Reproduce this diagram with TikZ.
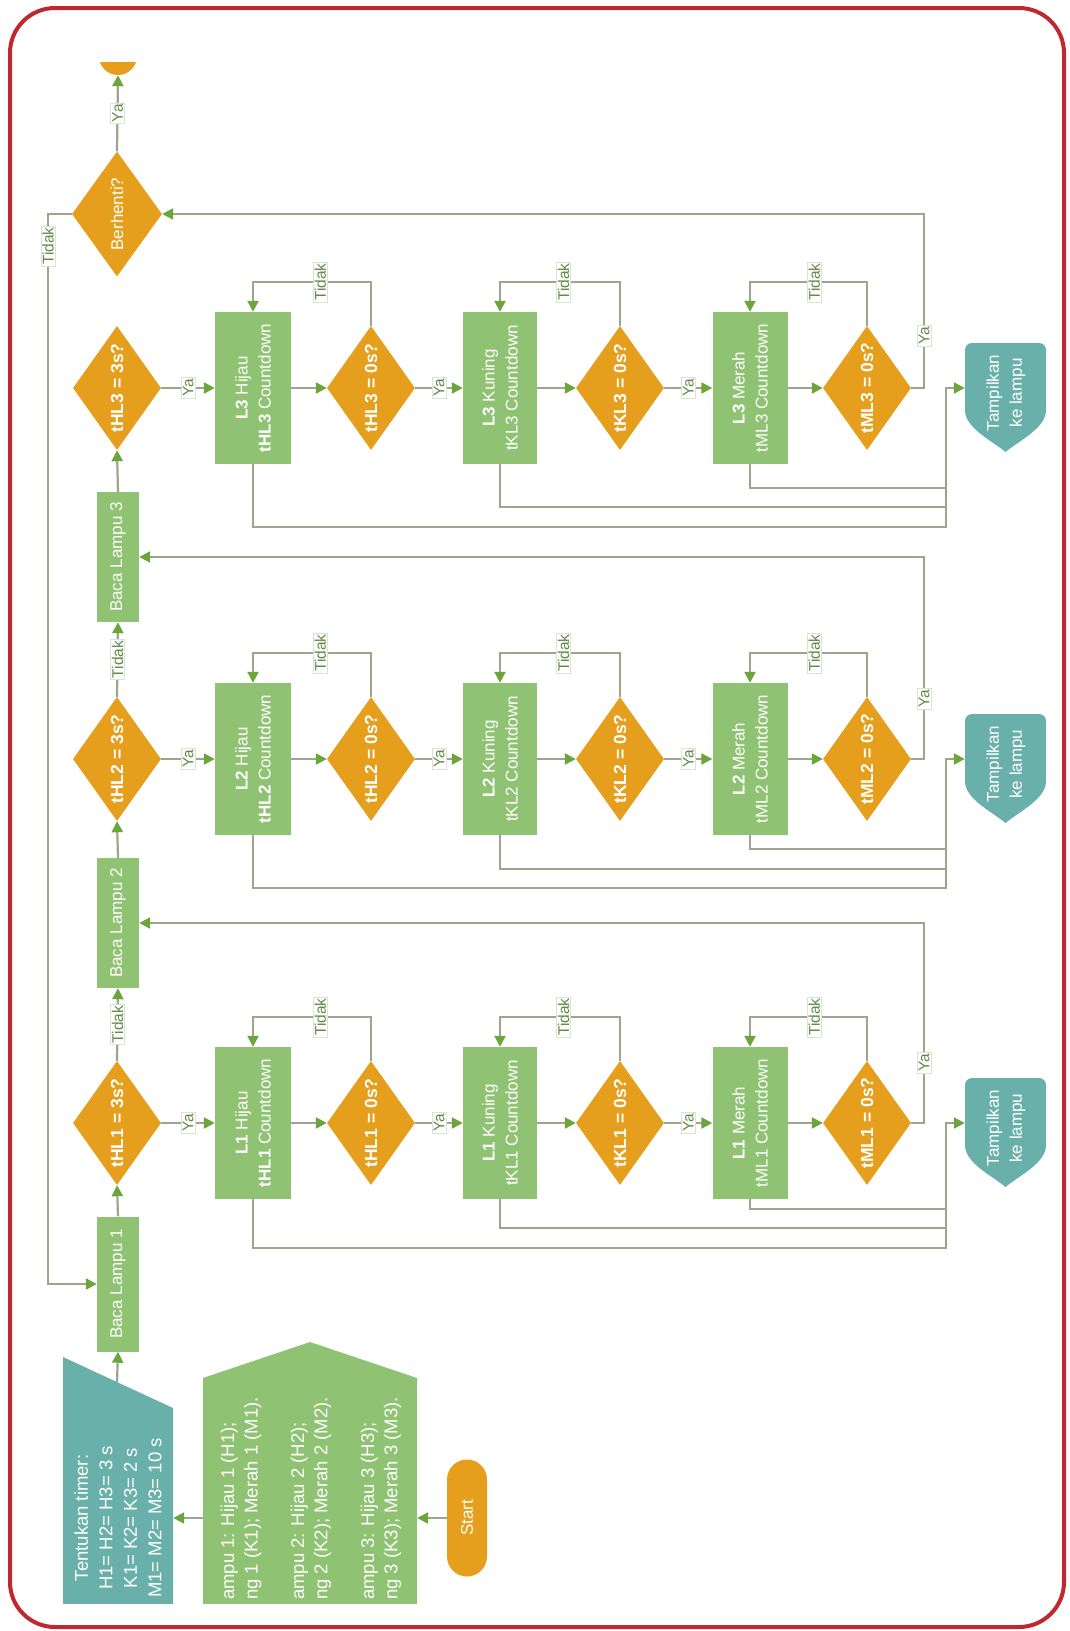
\documentclass[tikz,border=0pt]{standalone}
\usepackage{fontspec}
\setmainfont{Liberation Sans}
\usetikzlibrary{shapes.geometric,arrows.meta}
\definecolor{gGreen}{RGB}{143,195,115}
\definecolor{dOrange}{RGB}{229,159,28}
\definecolor{tTeal}{RGB}{106,176,170}
\definecolor{lineGray}{RGB}{158,165,140}
\definecolor{aGreen}{RGB}{108,165,60}
\definecolor{lblGreen}{RGB}{96,140,70}
\definecolor{frameRed}{RGB}{192,40,48}
\definecolor{lblBorder}{RGB}{222,226,212}
\begin{document}
\begin{tikzpicture}[x=1pt,y=-1pt,
  conn/.style={draw=lineGray, line width=2.2pt},
  arr/.style={conn, -{Triangle[length=11pt,width=11pt,color=aGreen]}},
  dia/.style={diamond, fill=dOrange, draw=none, minimum width=88pt, minimum height=124pt, inner sep=0pt},
  gbox/.style={rectangle, fill=gGreen, draw=none, minimum width=76pt, minimum height=152pt, inner sep=0pt},
  bbox/.style={rectangle, fill=gGreen, draw=none, minimum width=42pt, minimum height=130pt, inner sep=0pt},
  dtxt/.style={rotate=90, text=white, inner sep=0pt, font=\bfseries\fontsize{17.5}{20}\selectfont},
  btxt/.style={rotate=90, text=white, align=center, inner sep=0pt, font=\fontsize{17}{23}\selectfont},
  bigtxt/.style={rotate=90, text=white, align=center, inner sep=0pt, font=\fontsize{18.5}{24.5}\selectfont},
  lbl/.style={rotate=90, fill=white, draw=lblBorder, line width=0.6pt, text=lblGreen, inner sep=1.5pt, font=\fontsize{15.5}{17}\selectfont},
  ghost/.style={rectangle, draw=none, fill=none, inner sep=0pt}
]
\useasboundingbox (0,0) rectangle (1070,1631);
\fill[white] (0,0) rectangle (1070,1631);

% ---------- bottom shapes (cut off like the original) ----------
\begin{scope}
  \clip (0,0) rectangle (1070,1603);
  \fill[tTeal] (63,1357) -- (173,1408) -- (173,1650) -- (63,1650) -- cycle;
  \fill[gGreen] (203,1650) -- (203,1378) -- (310,1342) -- (417,1378) -- (417,1650) -- cycle;
\end{scope}
\node[bigtxt] (timert) at (118,1518) {Tentukan timer:\\H1= H2= H3= 3 s\\K1= K2= K3= 2 s\\M1= M2= M3= 10 s};
\node[bigtxt, align=left, anchor=west, font=\fontsize{18.5}{23.3}\selectfont] (lampt) at (311,1600)
  {ampu 1: Hijau 1 (H1);\\ng 1 (K1); Merah 1 (M1).\\[23.3pt]ampu 2: Hijau 2 (H2);\\ng 2 (K2); Merah 2 (M2).\\[23.3pt]ampu 3: Hijau 3 (H3);\\ng 3 (K3); Merah 3 (M3).};
\node[ghost, minimum width=110pt, minimum height=246pt] (timer) at (118,1480) {};
\node[ghost, minimum width=214pt, minimum height=261pt] (lampu) at (310,1472) {};
\coordinate (timertop) at (117,1382);

% start
\node[rectangle, rounded corners=20pt, fill=dOrange, minimum width=40pt, minimum height=117pt, inner sep=0pt] (start) at (467,1518) {};
\node[btxt] (startt) at (start) {Start};

% ---------- main column ----------
\node[bbox, minimum height=135pt] (bl1) at (118,1284) {};
\node[btxt] (bl1t) at (bl1) {Baca Lampu 1};
\node[bbox] (bl2) at (118,923) {};
\node[btxt] (bl2t) at (bl2) {Baca Lampu 2};
\node[bbox] (bl3) at (118,557) {};
\node[btxt] (bl3t) at (bl3) {Baca Lampu 3};

\node[dia, minimum width=90pt, minimum height=125pt] (stop) at (117,214) {};
\node[btxt] (stopt) at (stop) {Berhenti?};

\begin{scope}
  \clip (0,62) rectangle (1070,200);
  \node[rectangle, rounded corners=19pt, fill=dOrange, minimum width=38pt, minimum height=70pt, inner sep=0pt] (end) at (118,40) {};
\end{scope}

% ---------- rows ----------
\foreach \rw/\yc/\ym/\yk/\yh in {1/1123/1209/1228/1248,2/759/849/869/888,3/388/488/507/527}{
  \pgfmathsetmacro\ly{\yc-106}
  \node[dia] (q\rw) at (117,\yc) {};
  \node[dtxt] (qt\rw) at (q\rw) {tHL\rw{} = 3s?};
  \node[gbox] (h\rw) at (253,\yc) {};
  \node[btxt] (ht\rw) at (h\rw) {\textbf{L\rw} Hijau\\\textbf{tHL\rw} Countdown};
  \node[dia] (a\rw) at (371,\yc) {};
  \node[dtxt] (at\rw) at (a\rw) {tHL\rw{} = 0s?};
  \node[gbox, minimum width=74pt] (k\rw) at (500,\yc) {};
  \node[btxt] (kt\rw) at (k\rw) {\textbf{L\rw} Kuning\\tKL\rw{} Countdown};
  \node[dia] (b\rw) at (620,\yc) {};
  \node[dtxt] (bt\rw) at (b\rw) {tKL\rw{} = 0s?};
  \node[gbox, minimum width=75pt] (m\rw) at (750,\yc) {};
  \node[btxt] (mt\rw) at (m\rw) {\textbf{L\rw} Merah\\tML\rw{} Countdown};
  \node[dia] (c\rw) at (867,\yc) {};
  \node[dtxt] (ct\rw) at (c\rw) {tML\rw{} = 0s?};
  % shield
  \node[ghost, minimum width=81pt, minimum height=109pt] (s\rw) at (1005.5,{\yc+9.5}) {};
  \fill[tTeal] (965,{\yc+22}) [rounded corners=7pt] -- (965,{\yc-45}) -- (1046,{\yc-45}) [sharp corners] -- (1046,{\yc+22})
     .. controls (1046,{\yc+40}) and (1020,{\yc+52}) .. (1005.5,{\yc+64})
     .. controls (991,{\yc+52}) and (965,{\yc+40}) .. (965,{\yc+22}) -- cycle;
  \node[btxt] (st\rw) at (1006,{\yc+5}) {Tampilkan\\ke lampu};
  \coordinate (col\rw) at (946,\yc);
  % connectors
  \draw[arr] (q\rw.east) -- node[lbl]{Ya} (h\rw.west);
  \draw[arr] (h\rw.east) -- (a\rw.west);
  \draw[arr] (a\rw.north) -- (a\rw.north |- 0,\ly) -- node[lbl,pos=0.43]{Tidak} (h\rw.north |- 0,\ly) -- (h\rw.north);
  \draw[arr] (a\rw.east) -- node[lbl]{Ya} (k\rw.west);
  \draw[arr] (k\rw.east) -- (b\rw.west);
  \draw[arr] (b\rw.north) -- (b\rw.north |- 0,\ly) -- node[lbl,pos=0.47]{Tidak} (k\rw.north |- 0,\ly) -- (k\rw.north);
  \draw[arr] (b\rw.east) -- node[lbl]{Ya} (m\rw.west);
  \draw[arr] (m\rw.east) -- (c\rw.west);
  \draw[arr] (c\rw.north) -- (c\rw.north |- 0,\ly) -- node[lbl,pos=0.45]{Tidak} (m\rw.north |- 0,\ly) -- (m\rw.north);
  \draw[conn] (m\rw.south) |- (col\rw |- 0,\ym);
  \draw[conn] (k\rw.south) |- (col\rw |- 0,\yk);
  \draw[arr] (h\rw.south) |- (col\rw |- 0,\yh) -- (col\rw) -- (col\rw -| s\rw.west);
}

% ---------- main column connectors ----------
\draw[arr] (start.west) -- (start.west -| lampu.east);
\draw[arr] (lampu.west |- start.west) -- (start.west -| timer.east);
\draw[arr] (timertop) -- (bl1.south);
\draw[arr] (bl1.north) -- (q1.south);
\draw[arr] (q1.north) -- node[lbl]{Tidak} (bl2.south);
\draw[arr] (bl2.north) -- (q2.south);
\draw[arr] (q2.north) -- node[lbl]{Tidak} (bl3.south);
\draw[arr] (bl3.north) -- (q3.south);
\draw[arr] (c1.east) -| node[lbl,pos=0.65]{Ya} (bl2.east -| 924,0) -- (bl2.east);
\draw[arr] (c2.east) -| node[lbl,pos=0.65]{Ya} (bl3.east -| 924,0) -- (bl3.east);
\draw[arr] (c3.east) -| node[lbl,pos=0.65]{Ya} (stop.east -| 924,0) -- (stop.east);
\draw[arr] (stop.north) -- node[lbl]{Ya} (end.south);
\draw[arr] (stop.west) -| node[lbl,pos=0.515]{Tidak} (bl1.west -| 48,0) -- (bl1.west);

% ---------- frame ----------
\draw[frameRed, line width=4pt, rounded corners=45pt] (10,8) rectangle (1064,1627);
\end{tikzpicture}
\end{document}
